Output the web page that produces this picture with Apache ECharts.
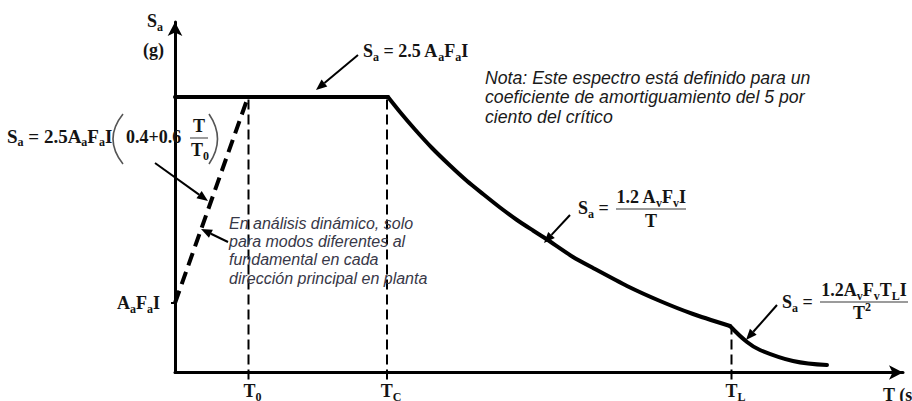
<!DOCTYPE html>
<html>
<head>
<meta charset="utf-8">
<script src="https://cdn.jsdelivr.net/npm/echarts@6/dist/echarts.min.js"></script>
<style>
  html, body { margin: 0; padding: 0; background: #fff; overflow: hidden; }
  #chart { width: 912px; height: 401px; }
</style>
</head>
<body>
<div id="chart"></div>
<script>
const rampT = [0, 0.73];
const rampSa = [0.695, 2.755];
const plateauT = [0, 2.13];
const plateauSa = [2.755, 2.755];
const descT = [2.13, 2.25, 2.40, 2.57, 2.75, 2.92, 3.08, 3.25, 3.42, 3.58, 3.72, 3.98, 4.18, 4.52, 4.85, 5.18, 5.55];
const descSa = [2.755, 2.605, 2.43, 2.245, 2.07, 1.915, 1.785, 1.65, 1.525, 1.42, 1.33, 1.155, 1.045, 0.865, 0.715, 0.585, 0.465];
const tailT = [5.55, 5.72, 5.85, 6.18, 6.52];
const tailSa = [0.465, 0.305, 0.225, 0.115, 0.075];
// periodos T0, TC, TL y lineas guia
const tickT = [0.735, 2.12, 5.565];
const tickSub = ['0', 'C', 'L'];
const guideTop = [2.755, 2.755, 0.465];
const guideBottom = -0.07;
// nivel AaFaI en el eje vertical
const levelSa = [0.695];

const serif = '"Liberation Serif", "Times New Roman", serif';
const ink = '#141414';

const zip = (xs, ys) => xs.map((x, i) => [x, ys[i]]);

// estilos rich para formulas (graphic usa fill)
const RG = {
  b: { fontFamily: serif, fontWeight: 'bold', fontSize: 18, lineHeight: 24, fill: ink },
  B: { fontFamily: serif, fontWeight: 'bold', fontSize: 19, lineHeight: 24, fill: ink },
  s: { fontFamily: serif, fontWeight: 'bold', fontSize: 12, lineHeight: 12, verticalAlign: 'bottom', fill: ink },
  p: { fontFamily: serif, fontWeight: 'bold', fontSize: 12, lineHeight: 12, verticalAlign: 'top', fill: ink }
};
// estilos rich para etiquetas de ejes (usa color)
const RA = {
  b: { fontFamily: serif, fontWeight: 'bold', fontSize: 18, lineHeight: 24, color: ink },
  s: { fontFamily: serif, fontWeight: 'bold', fontSize: 12, lineHeight: 12, verticalAlign: 'bottom', color: ink }
};

function txt(x, y, text, align) {
  return {
    type: 'text', z: 100,
    style: { text: text, x: x, y: y, rich: RG, align: align || 'left', verticalAlign: 'middle' }
  };
}

function bar(x1, x2, y) {
  return {
    type: 'line', z: 100,
    shape: { x1: x1, y1: y, x2: x2, y2: y },
    style: { stroke: '#7a7a7a', lineWidth: 1.5 }
  };
}

// parentesis alto dibujado como curva
function paren(x, yTop, yBot, bulge) {
  return {
    type: 'bezierCurve', z: 100,
    shape: { x1: x, y1: yTop, x2: x, y2: yBot, cpx1: x + bulge, cpy1: (yTop + yBot) / 2 },
    style: { stroke: '#555', lineWidth: 1.6, fill: null }
  };
}

// flecha de anotacion
function arrow(x1, y1, x2, y2) {
  const a = Math.atan2(y2 - y1, x2 - x1);
  const L = 11, W = 4.5;
  const c = Math.cos(a), s = Math.sin(a);
  const bx = x2 - L * c, by = y2 - L * s;
  return [
    { type: 'line', z: 100, shape: { x1: x1, y1: y1, x2: bx, y2: by }, style: { stroke: '#000', lineWidth: 2 } },
    { type: 'polygon', z: 100, shape: { points: [[x2, y2], [bx - W * s, by + W * c], [bx + W * s, by - W * c]] }, style: { fill: '#000' } }
  ];
}

function italic(x, y, text, size, lh, color) {
  return {
    type: 'text', z: 100,
    style: {
      text: text, x: x, y: y, fill: color, lineHeight: lh,
      font: 'italic ' + size + 'px "Liberation Sans", Arial, sans-serif',
      align: 'left', verticalAlign: 'top'
    }
  };
}

const chart = echarts.init(document.getElementById('chart'), null, { renderer: 'svg' });

const solid = { color: '#000', width: 4, cap: 'round', join: 'round' };

const guides = tickT.map((t, i) => ({
  type: 'line', clip: false, silent: true, symbol: 'none', z: 3,
  data: [[t, guideBottom], [t, guideTop[i]]],
  lineStyle: { color: '#000', width: 2, type: [10, 5] }
}));

const option = {
  animation: false,
  grid: { left: 175, right: 9, top: 22, bottom: 28.5, containLabel: false, outerBoundsMode: 'none' },
  xAxis: {
    type: 'value', min: 0, max: 7.28,
    splitLine: { show: false },
    axisTick: { show: false },
    axisLine: { lineStyle: { color: '#000', width: 3 }, symbol: ['none', 'arrow'], symbolSize: [11, 14] },
    axisLabel: {
      customValues: tickT, margin: 6, padding: [0, 0, 0, 8],
      formatter: v => '{b|T}{s|' + tickSub[tickT.indexOf(v)] + '}',
      rich: RA
    }
  },
  yAxis: {
    type: 'value', min: 0, max: 3.505,
    splitLine: { show: false },
    axisTick: { customValues: levelSa, length: 4, lineStyle: { color: '#000', width: 2 } },
    axisLine: { lineStyle: { color: '#000', width: 3 }, symbol: ['none', 'arrow'], symbolSize: [11, 14] },
    axisLabel: {
      customValues: levelSa, margin: 15,
      formatter: () => '{b|A}{s|a}{b|F}{s|a}{b|I}',
      rich: RA
    }
  },
  series: [
    {
      type: 'line', clip: false, silent: true, symbol: 'none', z: 4,
      data: zip(rampT, rampSa),
      lineStyle: { color: '#000', width: 4, type: [13, 7] }
    },
    { type: 'line', clip: false, silent: true, symbol: 'none', z: 5, data: zip(plateauT, plateauSa), lineStyle: solid },
    { type: 'line', clip: false, silent: true, symbol: 'none', z: 5, smooth: 0.2, data: zip(descT, descSa), lineStyle: solid },
    { type: 'line', clip: false, silent: true, symbol: 'none', z: 5, smooth: 0.4, data: zip(tailT, tailSa), lineStyle: solid }
  ].concat(guides),
  graphic: [
    // eje vertical
    txt(147, 21, '{b|S}{s|a}'),
    txt(143, 50, '{b|(g)}'),
    // eje horizontal
    txt(883, 395, '{b|T (s)}'),
    // meseta
    txt(363, 51, '{b|S}{s|a}{b| = 2.5 A}{s|a}{b|F}{s|a}{b|I}'),
    ...arrow(358, 55, 316, 90),
    // rampa
    txt(7, 136, '{B|S}{s|a}{B| = 2.5A}{s|a}{B|F}{s|a}{B|I}'),
    paren(123, 114, 164, -20),
    txt(126, 137, '{b|0.4+0.6}'),
    txt(199, 126, '{b|T}', 'center'),
    bar(190, 208, 138),
    txt(200, 150, '{b|T}{s|0}', 'center'),
    paren(209, 114, 164, 17),
    ...arrow(155, 163, 208, 201),
    // nota dinamica
    italic(229, 214, 'En análisis dinámico, solo\npara modos diferentes al\nfundamental en cada\ndirección principal en planta', 16, 18.3, '#383848'),
    ...arrow(228, 242, 201, 229),
    // nota amortiguamiento
    italic(485, 68, 'Nota: Este espectro está definido para un\ncoeficiente de amortiguamiento del 5 por\nciento del crítico', 17.7, 19.5, '#1a1a1a'),
    // rama 1/T
    txt(578, 208, '{b|S}{s|a}{b| =}'),
    txt(651, 197, '{b|1.2 A}{s|v}{b|F}{s|v}{b|I}', 'center'),
    bar(616, 686, 209),
    txt(651, 221, '{b|T}', 'center'),
    ...arrow(570, 215, 544, 243),
    // rama 1/T^2
    txt(782, 302, '{b|S}{s|a}{b| =}'),
    txt(864, 290, '{b|1.2A}{s|v}{b|F}{s|v}{b|T}{s|L}{b|I}', 'center'),
    bar(820, 908, 302),
    txt(862, 313, '{b|T}{p|2}', 'center'),
    ...arrow(777, 305, 746, 340)
  ]
};

chart.setOption(option);
</script>
</body>
</html>
